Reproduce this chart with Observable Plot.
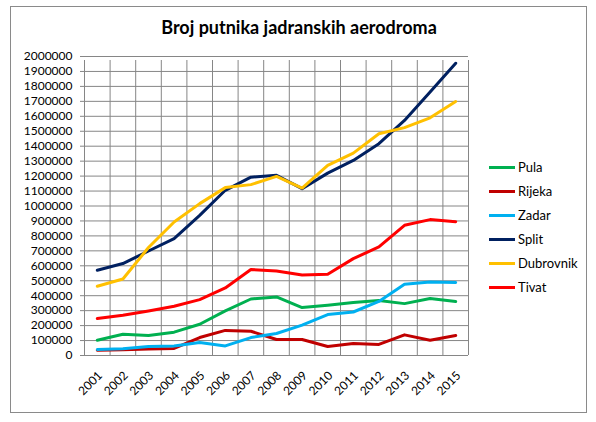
<!DOCTYPE html>
<html>
<head>
<meta charset="utf-8">
<script src="https://cdn.jsdelivr.net/npm/d3@7"></script>
<script src="https://cdn.jsdelivr.net/npm/@observablehq/plot@0.6"></script>
<style>
  html, body { margin: 0; padding: 0; background: #fff; }
  #wrap { position: relative; width: 596px; height: 422px; overflow: hidden; font-family: Lato, "Open Sans", sans-serif; }
  #frame { position: absolute; left: 10px; top: 6px; width: 577px; height: 407px; border: 1px solid #8a8a8a; box-sizing: border-box; pointer-events: none; }
  #title { height: 46px; width: 596px; text-align: center; font-weight: bold; font-size: 18px; line-height: 20px; padding-top: 17px; padding-left: 2px; box-sizing: border-box; color: #000; }
  #legend { position: absolute; left: 489px; top: 157px; font-size: 13px; color: #000; }
  .item { position: relative; height: 24px; }
  .item .sw { position: absolute; left: 0; top: 9px; width: 26px; height: 3px; }
  .item .lb { position: absolute; left: 29px; top: 2px; line-height: 16px; white-space: nowrap; }
  svg { display: block; }
</style>
</head>
<body>
<div id="wrap">
  <div id="title">Broj putnika jadranskih aerodroma</div>
  <div id="chart"></div>
  <div id="legend"></div>
  <div id="frame"></div>
</div>
<script>
const years = [2001, 2002, 2003, 2004, 2005, 2006, 2007, 2008, 2009, 2010, 2011, 2012, 2013, 2014, 2015];
const seriesNames = ["Pula", "Rijeka", "Zadar", "Split", "Dubrovnik", "Tivat"];
const seriesColors = ["#00B050", "#C00000", "#00B0F0", "#002060", "#FFC000", "#FF0000"];

const pula      = [102000, 142000, 134000, 156000, 209000, 298000, 378000, 392000, 321000, 336000, 354000, 368000, 347000, 381000, 361000];
const rijeka    = [35000, 38000, 44000, 47000, 120000, 168000, 162000, 107000, 107000, 60000, 80000, 74000, 138000, 102000, 134000];
const zadar     = [40000, 45000, 60000, 64000, 87000, 64000, 120000, 147000, 203000, 274000, 291000, 362000, 476000, 492000, 488000];
const split     = [570000, 615000, 699000, 782000, 937000, 1105000, 1193000, 1205000, 1116000, 1220000, 1305000, 1417000, 1572000, 1762000, 1955000];
const dubrovnik = [463000, 512000, 722000, 893000, 1016000, 1123000, 1143000, 1198000, 1120000, 1272000, 1354000, 1483000, 1524000, 1590000, 1699000];
const tivat     = [247000, 269000, 298000, 329000, 374000, 452000, 575000, 565000, 538000, 543000, 648000, 726000, 871000, 909000, 895000];

const yTicks = d3.range(0, 2000001, 100000);
const seriesValues = [pula, rijeka, zadar, split, dubrovnik, tivat];

const rows = [];
seriesNames.forEach((name, i) => {
  years.forEach((yr, j) => rows.push({series: name, year: yr, value: seriesValues[i][j]}));
});
const boundaries = [years[0] - 0.5, ...years.map(y => y + 0.5)];

const chart = Plot.plot({
  width: 596,
  height: 376,
  marginTop: 10,
  marginBottom: 67,
  marginLeft: 84,
  marginRight: 128,
  style: {fontFamily: "Lato, 'Open Sans', sans-serif", fontSize: "12px", color: "#000", background: "#fff"},
  x: {type: "linear", domain: [years[0] - 0.5, years[years.length - 1] + 0.5], axis: null},
  y: {domain: [0, 2000000], axis: null},
  color: {domain: seriesNames, range: seriesColors},
  marks: [
    Plot.ruleY(yTicks, {y: d => d, x1: boundaries[0], x2: boundaries[boundaries.length - 1], stroke: "#868686", strokeWidth: 1, strokeOpacity: 1, insetLeft: -4}),
    Plot.ruleX(boundaries, {x: d => d, y1: 0, y2: 2000000, stroke: "#868686", strokeWidth: 1, strokeOpacity: 1, insetBottom: -4}),
    Plot.text(yTicks, {x: boundaries[0], y: d => d, text: d => String(d), textAnchor: "end", dx: -12, fill: "#000", fontSize: 12}),
    Plot.text(years, {x: d => d, y: 0, text: d => String(d), textAnchor: "end", rotate: -45, dx: 3, dy: 18, fill: "#000", fontSize: 12}),
    Plot.line(rows, {x: "year", y: "value", z: "series", stroke: "series", strokeWidth: 3, strokeLinejoin: "round", strokeLinecap: "round"})
  ]
});
document.getElementById("chart").appendChild(chart);

const legend = document.getElementById("legend");
seriesNames.forEach((name, i) => {
  const it = document.createElement("div");
  it.className = "item";
  it.innerHTML = `<div class="sw" style="background:${seriesColors[i]}"></div><div class="lb">${name}</div>`;
  legend.appendChild(it);
});
</script>
</body>
</html>
